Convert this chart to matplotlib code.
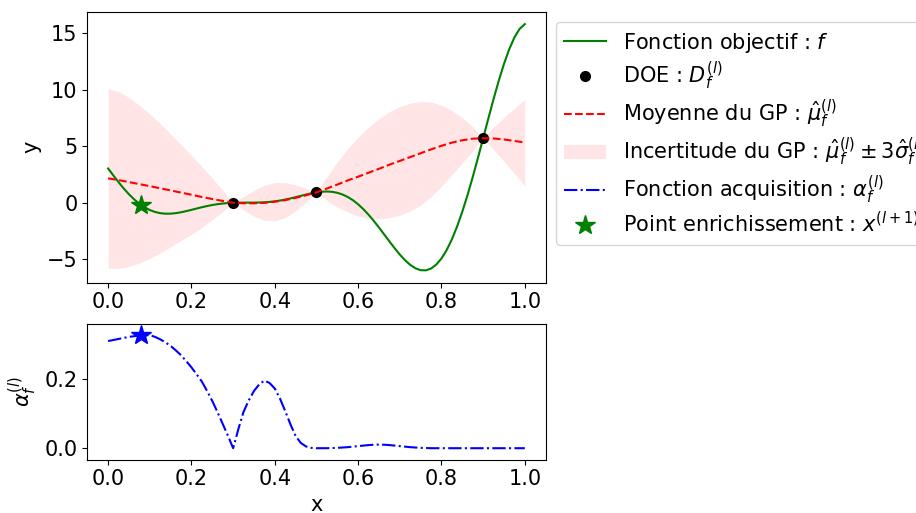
import numpy as np
import matplotlib
matplotlib.use("Agg")
import matplotlib.pyplot as plt

plt.rcParams["font.size"] = 15

# Coarse grid for the GP posterior
x_grid = [0.0, 0.025, 0.05, 0.075, 0.1, 0.125, 0.15, 0.175, 0.2, 0.225,
          0.25, 0.275, 0.3, 0.325, 0.35, 0.375, 0.4, 0.425, 0.45, 0.475,
          0.5, 0.525, 0.55, 0.575, 0.6, 0.625, 0.65, 0.675, 0.7, 0.725,
          0.75, 0.775, 0.8, 0.825, 0.85, 0.875, 0.9, 0.925, 0.95, 0.975, 1.0]

# GP posterior mean and 3-sigma half width
gp_mean = [2.15, 2.00, 1.82, 1.64, 1.46, 1.27, 1.08, 0.89, 0.70, 0.50,
           0.32, 0.15, -0.016, -0.06, -0.06, -0.02, 0.08, 0.22, 0.42, 0.65,
           0.909, 1.25, 1.60, 1.97, 2.30, 2.65, 3.00, 3.36, 3.70, 4.04,
           4.38, 4.72, 5.04, 5.32, 5.53, 5.67, 5.712, 5.69, 5.60, 5.47, 5.33]
gp_3sigma = [7.95, 7.85, 7.50, 7.00, 6.40, 5.75, 5.00, 4.25, 3.50, 2.70,
             1.85, 0.95, 0.0, 0.60, 1.15, 1.55, 1.70, 1.55, 1.15, 0.60,
             0.0, 1.05, 2.00, 2.80, 3.50, 4.05, 4.45, 4.70, 4.82, 4.78,
             4.60, 4.20, 3.60, 2.85, 2.00, 1.05, 0.0, 1.00, 1.95, 2.90, 3.84]

# Fine grid for the objective and the acquisition function
x_fine = [0.0, 0.0125, 0.025, 0.0375, 0.05, 0.0625, 0.075, 0.0875, 0.1, 0.1125,
          0.125, 0.1375, 0.15, 0.1625, 0.175, 0.1875, 0.2, 0.2125, 0.225, 0.2375,
          0.25, 0.2625, 0.275, 0.2875, 0.3, 0.3125, 0.325, 0.3375, 0.35, 0.3625,
          0.375, 0.3875, 0.4, 0.4125, 0.425, 0.4375, 0.45, 0.4625, 0.475, 0.4875,
          0.5, 0.5125, 0.525, 0.5375, 0.55, 0.5625, 0.575, 0.5875, 0.6, 0.6125,
          0.625, 0.6375, 0.65, 0.6625, 0.675, 0.6875, 0.7, 0.7125, 0.725, 0.7375,
          0.75, 0.7625, 0.775, 0.7875, 0.8, 0.8125, 0.825, 0.8375, 0.85, 0.8625,
          0.875, 0.8875, 0.9, 0.9125, 0.925, 0.9375, 0.95, 0.9625, 0.975, 0.9875, 1.0]

f_true = [3.027, 2.411, 1.813, 1.251, 0.738, 0.286, -0.100, -0.414, -0.657, -0.829,
          -0.935, -0.982, -0.978, -0.932, -0.854, -0.753, -0.640, -0.522, -0.407, -0.302,
          -0.210, -0.136, -0.079, -0.040, -0.016, -0.004, -0.0002, 0.000, 0.002, 0.010,
          0.030, 0.064, 0.115, 0.184, 0.270, 0.371, 0.483, 0.600, 0.717, 0.823,
          0.909, 0.967, 0.986, 0.957, 0.871, 0.722, 0.503, 0.213, -0.150, -0.581,
          -1.074, -1.621, -2.209, -2.821, -3.439, -4.041, -4.606, -5.107, -5.522, -5.824,
          -5.993, -6.006, -5.845, -5.496, -4.949, -4.201, -3.254, -2.118, -0.799, 0.673,
          2.272, 3.964, 5.712, 7.470, 9.187, 10.816, 12.303, 13.597, 14.648, 15.406, 15.830]

acq = [0.309, 0.312, 0.315, 0.318, 0.321, 0.323, 0.325, 0.326, 0.326, 0.321,
       0.314, 0.305, 0.295, 0.282, 0.268, 0.251, 0.233, 0.213, 0.192, 0.165,
       0.136, 0.104, 0.070, 0.036, 0.0, 0.055, 0.105, 0.138, 0.165, 0.184,
       0.195, 0.188, 0.172, 0.143, 0.107, 0.069, 0.035, 0.015, 0.005, 0.001,
       0.0, 0.0, 0.0, 0.0005, 0.001, 0.002, 0.003, 0.0045, 0.006, 0.0075,
       0.009, 0.010, 0.0105, 0.010, 0.009, 0.0075, 0.006, 0.0045, 0.003, 0.002,
       0.001, 0.0005, 0.0, 0.0, 0.0, 0.0, 0.0, 0.0, 0.0, 0.0,
       0.0, 0.0, 0.0, 0.0, 0.0, 0.0, 0.0, 0.0, 0.0, 0.0, 0.0]

# Design of experiments
x_doe = [0.3, 0.5, 0.9]
y_doe = [-0.016, 0.909, 5.712]

# Enrichment point
x_new = 0.08
y_new = -0.234
acq_new = 0.326

x = np.array(x_grid)
mu = np.array(gp_mean)
s3 = np.array(gp_3sigma)

fig = plt.figure(figsize=(9.16, 5.13), dpi=100)
ax1 = fig.add_axes([0.0953, 0.449, 0.5004, 0.528])
ax2 = fig.add_axes([0.0953, 0.104, 0.5004, 0.265])

ax1.plot(x_fine, f_true, color="green", linewidth=1.5, label=r"Fonction objectif : $f$")
ax1.plot(x_doe, y_doe, "o", color="black", markersize=7, label=r"DOE : $D_f^{(l)}$")
ax1.plot(x, mu, "--", color="red", linewidth=1.5,
         label=r"Moyenne du GP : $\hat{\mu}_f^{(l)}$")
ax1.fill_between(x, mu - s3, mu + s3, color="red", alpha=0.1, linewidth=0,
                 label=r"Incertitude du GP : $\hat{\mu}_f^{(l)} \pm 3\hat{\sigma}_f^{(l)}$")
# acquisition curve lives on ax2, dummy line so it shows in the main legend
ax1.plot([], [], "-.", color="blue", linewidth=1.5,
         label=r"Fonction acquisition : $\alpha_f^{(l)}$")
ax1.plot(x_new, y_new, "*", color="green", markersize=15,
         label=r"Point enrichissement : $x^{(l+1)}$")
ax1.set_ylabel("y")
ax1.legend(loc="upper left", bbox_to_anchor=(1.0, 1.0), labelspacing=0.25)

ax2.plot(x_fine, acq, "-.", color="blue", linewidth=1.5)
ax2.plot(x_new, acq_new, "*", color="blue", markersize=15)
ax2.set_ylim(-0.033, 0.359)
ax2.set_xlabel("x")
ax2.set_ylabel(r"$\alpha_f^{(l)}$")

fig.savefig("out.png", dpi=100)
